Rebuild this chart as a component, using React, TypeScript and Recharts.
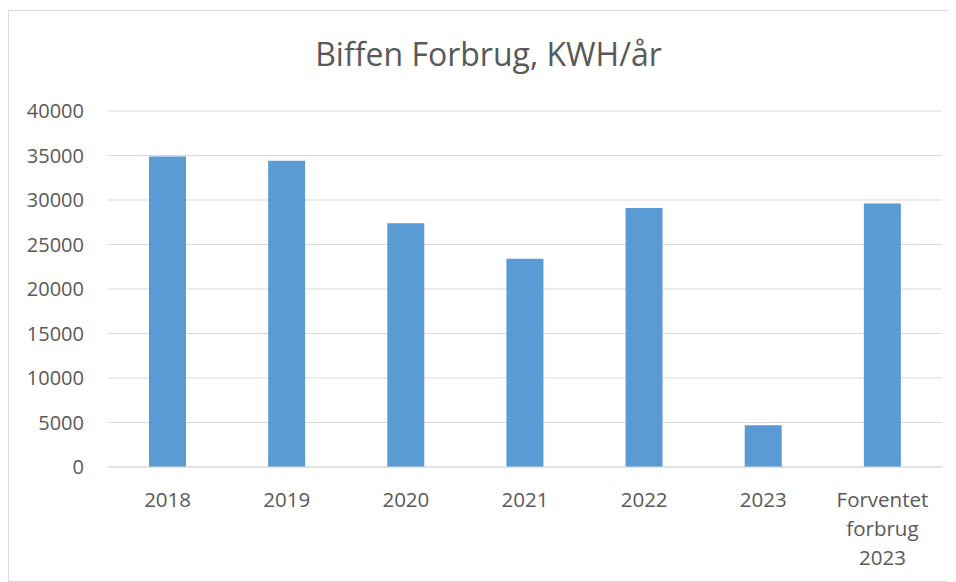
import React from "react";
import { BarChart, Bar, XAxis, YAxis, CartesianGrid } from "recharts";

const categories = ["2018", "2019", "2020", "2021", "2022", "2023", "Forventet\nforbrug\n2023"];
const values = [34900, 34400, 27400, 23400, 29100, 4700, 29600];
const yTicks = [0, 5000, 10000, 15000, 20000, 25000, 30000, 35000, 40000];
const title = "Biffen Forbrug, KWH/år";

const data = categories.map((c, i) => ({ name: c, value: values[i] }));

const FONT = "'Open Sans', sans-serif";
const TEXT = "#595959";

const XTick = (props: any) => {
  const { x, y, payload } = props;
  const lines = String(payload.value).split("\n");
  return (
    <text x={x} y={y} textAnchor="middle" fill={TEXT} fontFamily={FONT} fontSize={20.5}>
      {lines.map((l, i) => (
        <tspan key={i} x={x} y={y + 39.5 + i * 29.3}>
          {l}
        </tspan>
      ))}
    </text>
  );
};

export default function App() {
  return (
    <div
      style={{
        position: "relative",
        width: 944,
        height: 570,
        border: "1px solid #d9d9d9",
        marginTop: 2,
        background: "#fff",
      }}
    >
      <div
        style={{
          position: "absolute",
          left: 0,
          top: 24,
          width: 959,
          textAlign: "center",
          fontFamily: FONT,
          fontSize: 32,
          color: TEXT,
          lineHeight: "38px",
          whiteSpace: "nowrap",
        }}
      >
        {title}
      </div>
      <BarChart
        width={944}
        height={570}
        data={data}
        margin={{ top: 100, right: 11, bottom: 14, left: 0 }}
      >
        <CartesianGrid vertical={false} stroke="#d9d9d9" strokeWidth={1} />
        <XAxis
          dataKey="name"
          axisLine={{ stroke: "#d9d9d9" }}
          tickLine={false}
          tickSize={0}
          tickMargin={0}
          height={100}
          interval={0}
          tick={<XTick />}
        />
        <YAxis
          domain={[0, 40000]}
          ticks={yTicks}
          axisLine={false}
          tickLine={false}
          tickSize={0}
          tickMargin={24}
          width={99}
          tick={{ fill: TEXT, fontFamily: FONT, fontSize: 20 }}
        />
        <Bar dataKey="value" fill="#5b9bd5" barSize={37} isAnimationActive={false} />
      </BarChart>
    </div>
  );
}
